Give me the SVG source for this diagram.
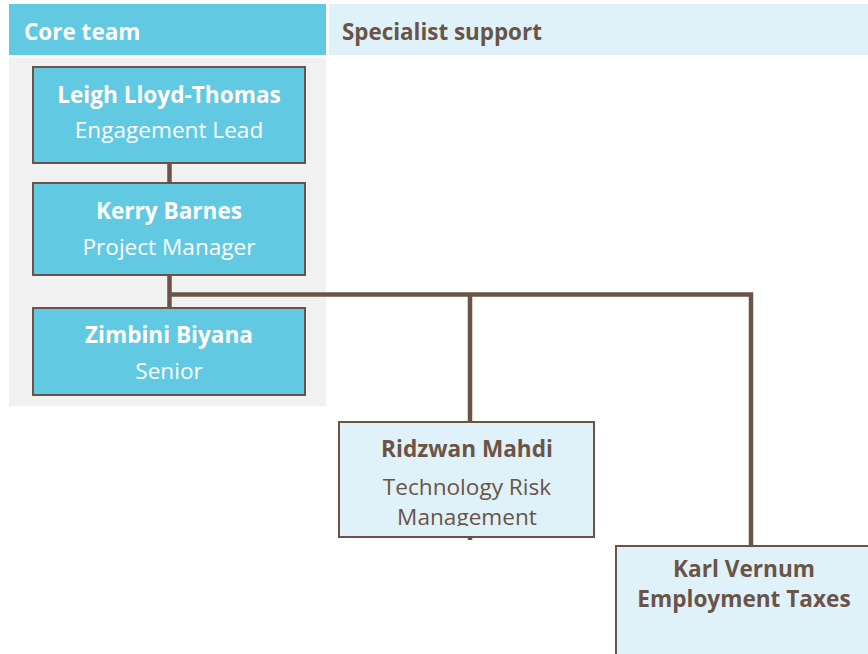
<svg xmlns="http://www.w3.org/2000/svg" width="868" height="654" viewBox="0 0 868 654">
<style>
text{font-family:"Open Sans","Noto Sans","DejaVu Sans",sans-serif;text-anchor:middle;font-size:22.6px}
.b{font-weight:bold}
.w{fill:#ffffff}
.d{fill:#6b5447}
.core{fill:#62c9e3;stroke:#6b5447;stroke-width:2}
.spec{fill:#dff2f9;stroke:#6b5447;stroke-width:2}
.ln{stroke:#6b5447;stroke-width:4.5;fill:none}
</style>
<defs>
<clipPath id="rclip"><rect x="339" y="422" width="255" height="104"/></clipPath>
</defs>
<rect width="868" height="654" fill="#ffffff"/>
<g id="header-core">
<rect x="9" y="4" width="317" height="51" fill="#62c9e3"/>
<text x="24" y="40" class="b w" style="text-anchor:start;font-size:22.5px">Core team</text>
</g>
<g id="header-specialist">
<rect x="329" y="4" width="539" height="51" fill="#dff2f9"/>
<text x="342" y="40" class="b d" style="text-anchor:start;font-size:22.4px">Specialist support</text>
</g>
<rect id="core-panel" x="9" y="58" width="317" height="348" fill="#f1f1f1"/>
<g id="connectors">
<line class="ln" x1="169.5" y1="163" x2="169.5" y2="183"/>
<line class="ln" x1="169.5" y1="275" x2="169.5" y2="307"/>
<polyline class="ln" points="169.5,294.5 751,294.5 751,546"/>
<line class="ln" x1="470" y1="294.5" x2="470" y2="540"/>
</g>
<g id="leigh">
<rect class="core" x="33" y="67" width="272" height="96"/>
<text x="169" y="103" class="b w">Leigh Lloyd-Thomas</text>
<text x="169" y="138" class="w">Engagement Lead</text>
</g>
<g id="kerry">
<rect class="core" x="33" y="183" width="272" height="92"/>
<text x="169" y="219" class="b w">Kerry Barnes</text>
<text x="169" y="255" class="w">Project Manager</text>
</g>
<g id="zimbini">
<rect class="core" x="33" y="308" width="272" height="87"/>
<text x="169" y="343" class="b w">Zimbini Biyana</text>
<text x="169" y="379" class="w">Senior</text>
</g>
<g id="ridzwan">
<rect class="spec" x="339" y="422" width="255" height="115"/>
<g clip-path="url(#rclip)">
<text x="467" y="457" class="b d">Ridzwan Mahdi</text>
<text x="467" y="495" class="d">Technology Risk</text>
<text x="467" y="524.5" class="d">Management</text>
</g>
</g>
<g id="karl">
<rect class="spec" x="616" y="546" width="260" height="120"/>
<text x="744" y="577" class="b d">Karl Vernum</text>
<text x="744" y="607" class="b d">Employment Taxes</text>
</g>
</svg>
